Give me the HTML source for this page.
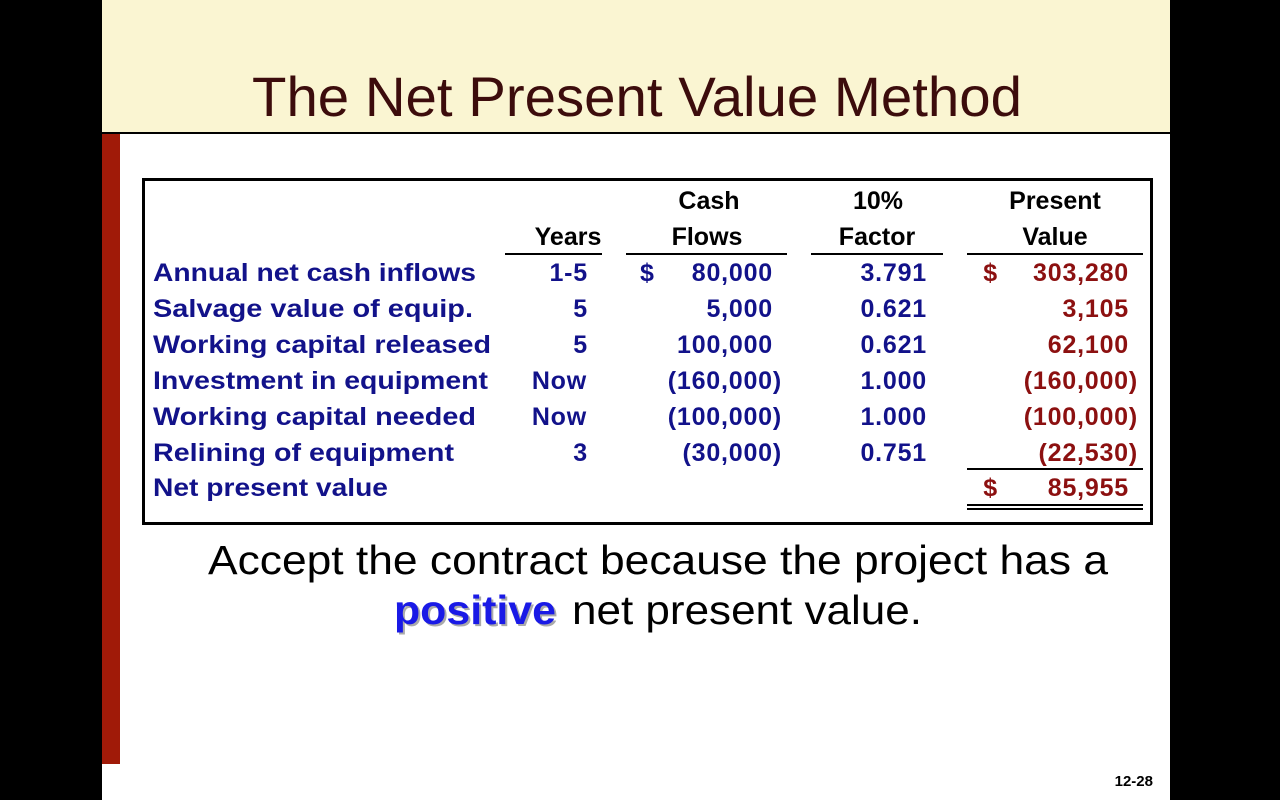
<!DOCTYPE html>
<html><head><meta charset="utf-8"><style>
html,body{margin:0;padding:0;background:#000;}
svg{display:block;}
</style></head><body>
<svg width="1280" height="800" xmlns="http://www.w3.org/2000/svg" font-family="Liberation Sans, Arial, sans-serif">
<rect x="0" y="0" width="1280" height="800" fill="#000"/>
<rect x="102" y="0" width="1068" height="800" fill="#fff"/>
<rect x="102" y="0" width="1068" height="133" fill="#faf5d2"/>
<line x1="102" y1="133" x2="1170" y2="133" stroke="#000" stroke-width="2"/>
<rect x="102" y="134" width="18" height="630" fill="#a01a08"/>
<text x="252" y="116" font-size="56" fill="#3c0c0c" textLength="770" lengthAdjust="spacingAndGlyphs">The Net Present Value Method</text>
<rect x="143.5" y="179.5" width="1008" height="344" fill="none" stroke="#000" stroke-width="3"/>
<g font-size="25" font-weight="bold" fill="#000" text-anchor="middle">
<text x="709" y="209">Cash</text><text x="878" y="209">10%</text><text x="1055" y="209">Present</text>
<text x="568" y="245">Years</text><text x="707" y="245">Flows</text><text x="877" y="245">Factor</text><text x="1055" y="245">Value</text>
</g>
<g stroke="#000" stroke-width="2">
<line x1="505" y1="254" x2="602" y2="254"/><line x1="626" y1="254" x2="787" y2="254"/>
<line x1="811" y1="254" x2="943" y2="254"/><line x1="967" y1="254" x2="1143" y2="254"/>
<line x1="967" y1="469" x2="1143" y2="469"/>
<line x1="967" y1="505" x2="1143" y2="505"/><line x1="967" y1="509" x2="1143" y2="509"/>
</g>
<g font-size="25" font-weight="bold" fill="#12128a">
<text x="153" y="281" textLength="323" lengthAdjust="spacingAndGlyphs">Annual net cash inflows</text>
<text x="153" y="317" textLength="320" lengthAdjust="spacingAndGlyphs">Salvage value of equip.</text>
<text x="153" y="353" textLength="338" lengthAdjust="spacingAndGlyphs">Working capital released</text>
<text x="153" y="389" textLength="335" lengthAdjust="spacingAndGlyphs">Investment in equipment</text>
<text x="153" y="425" textLength="323" lengthAdjust="spacingAndGlyphs">Working capital needed</text>
<text x="153" y="461" textLength="301" lengthAdjust="spacingAndGlyphs">Relining of equipment</text>
<text x="153" y="496" textLength="235" lengthAdjust="spacingAndGlyphs">Net present value</text>
<g text-anchor="end" letter-spacing="0.8">
<text x="588" y="281">1-5</text><text x="588" y="317">5</text><text x="588" y="353">5</text>
<text x="587" y="389">Now</text><text x="587" y="425">Now</text><text x="588" y="461">3</text>
<text x="773" y="281">80,000</text><text x="773" y="317">5,000</text><text x="773" y="353">100,000</text>
<text x="782" y="389">(160,000)</text><text x="782" y="425">(100,000)</text><text x="782" y="461">(30,000)</text>
<text x="927" y="281">3.791</text><text x="927" y="317">0.621</text><text x="927" y="353">0.621</text>
<text x="927" y="389">1.000</text><text x="927" y="425">1.000</text><text x="927" y="461">0.751</text>
</g>
<text x="640" y="281">$</text>
</g>
<g font-size="25" font-weight="bold" fill="#8c1010" text-anchor="end" letter-spacing="0.8">
<text x="998" y="281">$</text><text x="1129" y="281">303,280</text>
<text x="1129" y="317">3,105</text><text x="1129" y="353">62,100</text>
<text x="1138" y="389">(160,000)</text><text x="1138" y="425">(100,000)</text><text x="1138" y="461">(22,530)</text>
<text x="998" y="496">$</text><text x="1129" y="496">85,955</text>
</g>
<text x="208" y="574" font-size="41" fill="#000" textLength="900" lengthAdjust="spacingAndGlyphs">Accept the contract because the project has a</text>
<text x="396" y="626" font-size="41" font-weight="bold" fill="#aaa" textLength="162" lengthAdjust="spacingAndGlyphs">positive</text>
<text x="394" y="624" font-size="41" font-weight="bold" fill="#1a1ae6" textLength="162" lengthAdjust="spacingAndGlyphs">positive</text>
<text x="572" y="624" font-size="41" fill="#000" textLength="350" lengthAdjust="spacingAndGlyphs">net present value.</text>
<text x="1153" y="786" font-size="15" font-weight="bold" fill="#000" text-anchor="end">12-28</text>
</svg>
</body></html>
